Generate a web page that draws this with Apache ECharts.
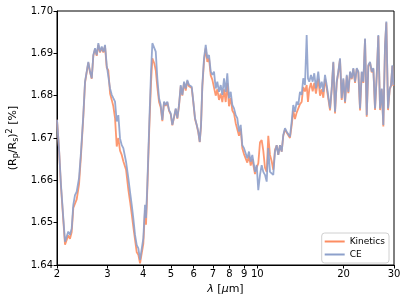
<!DOCTYPE html>
<html>
<head>
<meta charset="utf-8">
<script src="https://cdn.jsdelivr.net/npm/echarts@6/dist/echarts.min.js"></script>
<style>html,body{margin:0;padding:0;background:#fff}#c{width:407px;height:304px}</style>
</head>
<body>
<div id="c"></div>
<script>
const wavelength = [2.000,2.032,2.065,2.104,2.133,2.162,2.190,2.220,2.251,2.280,2.311,2.343,2.387,2.426,2.471,2.505,2.539,2.572,2.608,2.644,2.678,2.715,2.752,2.788,2.826,2.865,2.902,2.942,2.982,3.021,3.063,3.105,3.145,3.188,3.232,3.274,3.319,3.365,3.408,
3.483,3.548,3.597,3.646,3.693,3.744,3.796,3.845,3.898,3.951,4.002,4.057,4.090,4.133,4.200,4.258,4.303,4.372,4.422,4.479,4.541,4.603,4.663,4.727,4.792,4.854,4.921,4.988,5.053,5.122,5.193,5.260,5.332,5.405,5.476,5.551,5.627,5.700,5.778,5.825,
5.905,5.981,6.063,6.147,6.226,6.297,6.363,6.430,6.518,6.608,6.693,6.785,6.879,6.968,7.063,7.160,7.253,7.352,7.453,7.550,7.654,7.759,7.859,7.967,8.077,8.181,8.294,8.408,8.516,8.633,8.752,8.865,8.987,9.111,9.229,9.355,9.484,9.607,9.739,
9.817,9.952,10.081,10.220,10.360,10.494,10.638,10.785,10.924,11.075,11.227,11.372,11.529,11.687,11.838,12.001,12.166,12.323,12.493,12.665,12.828,13.005,13.183,13.354,13.537,13.723,13.901,14.092,14.286,14.470,14.669,14.871,15.027,15.185,15.393,15.605,15.807,16.024,16.323,
16.556,16.784,17.001,17.234,17.471,17.697,17.941,18.187,18.422,18.676,18.932,19.177,19.441,19.708,19.969,20.244,20.522,20.787,21.073,21.363,21.639,21.936,22.238,22.526,22.835,23.149,23.449,23.771,24.098,24.410,24.745,25.085,25.410,25.759,26.113,26.451,26.815,27.183,27.535,27.914,28.207,28.595,28.988,29.293,29.601,29.839];

const kinetics = [1.6743,1.6676,1.6585,1.6505,1.6448,1.6444,1.6470,1.6462,1.6478,1.6535,1.6545,1.6555,1.6590,1.6660,1.6750,1.6830,1.6855,1.6878,1.6855,1.6840,1.6894,1.6910,1.6894,1.6920,1.6902,1.6913,1.6902,1.6917,1.6866,1.6860,1.6805,1.6790,1.6775,1.6747,1.6680,1.6700,1.6670,1.6660,1.6645,
1.6625,1.6578,1.6550,1.6520,1.6490,1.6460,1.6430,1.6424,1.6404,1.6402,1.6450,1.6530,1.6495,1.6580,1.6725,1.6830,1.6888,1.6876,1.6860,1.6820,1.6785,1.6772,1.6740,1.6784,1.6776,1.6784,1.6764,1.6756,1.6730,1.6748,1.6768,1.6746,1.6776,1.6822,1.6800,1.6830,1.6812,1.6834,1.6822,1.6826,
1.6818,1.6784,1.6745,1.6730,1.6713,1.6690,1.6728,1.6820,1.6882,1.6912,1.6880,1.6888,1.6848,1.6838,1.6840,1.6800,1.6815,1.6790,1.6805,1.6785,1.6815,1.6785,1.6830,1.6775,1.6795,1.6765,1.6758,1.6735,1.6735,1.6705,1.6722,1.6676,1.6662,1.6665,1.6642,1.6658,1.6635,1.6650,1.6628,
1.6615,1.6630,1.6640,1.6690,1.6695,1.6670,1.6630,1.6620,1.6705,1.6660,1.6645,1.6625,1.6672,1.6683,1.6660,1.6683,1.6668,1.6705,1.6720,1.6713,1.6713,1.6700,1.6730,1.6765,1.6745,1.6760,1.6760,1.6780,1.6785,1.6820,1.6810,1.6825,1.6785,1.6815,1.6830,1.6810,1.6830,1.6805,1.6840,
1.6800,1.6815,1.6795,1.6840,1.6818,1.6820,1.6765,1.6815,1.6878,1.6758,1.6830,1.6855,1.6886,1.6790,1.6838,1.6782,1.6846,1.6806,1.6855,1.6839,1.6863,1.6830,1.6863,1.6855,1.6765,1.6855,1.6830,1.6933,1.6750,1.6870,1.6878,1.6855,1.6863,1.6766,1.6847,1.6941,1.6766,1.6815,1.6727,1.6918,1.6973,1.6766,1.6815,1.6823,1.6870,1.6823];

const ce = [1.6743,1.6676,1.6589,1.6511,1.6455,1.6452,1.6479,1.6471,1.6487,1.6542,1.6565,1.6573,1.6605,1.6668,1.6754,1.6833,1.6857,1.6880,1.6857,1.6841,1.6896,1.6912,1.6896,1.6924,1.6904,1.6916,1.6904,1.6920,1.6872,1.6868,1.6817,1.6802,1.6794,1.6786,1.6739,1.6754,1.6699,1.6683,1.6676,
1.6644,1.6605,1.6573,1.6542,1.6510,1.6471,1.6447,1.6439,1.6412,1.6412,1.6463,1.6542,1.6511,1.6589,1.6739,1.6857,1.6924,1.6920,1.6904,1.6841,1.6794,1.6778,1.6743,1.6786,1.6778,1.6786,1.6766,1.6758,1.6731,1.6750,1.6770,1.6747,1.6778,1.6825,1.6802,1.6833,1.6817,1.6837,1.6825,1.6829,
1.6821,1.6786,1.6747,1.6731,1.6715,1.6691,1.6731,1.6825,1.6888,1.6920,1.6888,1.6896,1.6857,1.6849,1.6857,1.6817,1.6833,1.6809,1.6825,1.6802,1.6841,1.6809,1.6853,1.6794,1.6809,1.6778,1.6770,1.6754,1.6747,1.6715,1.6731,1.6683,1.6676,1.6676,1.6652,1.6668,1.6644,1.6660,1.6636,
1.6620,1.6636,1.6577,1.6613,1.6636,1.6620,1.6613,1.6597,1.6676,1.6620,1.6620,1.6613,1.6668,1.6683,1.6660,1.6683,1.6668,1.6707,1.6723,1.6715,1.6715,1.6703,1.6739,1.6778,1.6762,1.6786,1.6778,1.6809,1.6802,1.6841,1.6825,1.6943,1.6841,1.6833,1.6849,1.6833,1.6853,1.6817,1.6857,
1.6817,1.6833,1.6809,1.6849,1.6825,1.6825,1.6770,1.6817,1.6880,1.6762,1.6833,1.6857,1.6888,1.6794,1.6841,1.6786,1.6849,1.6809,1.6857,1.6841,1.6865,1.6833,1.6865,1.6857,1.6770,1.6857,1.6833,1.6935,1.6754,1.6872,1.6880,1.6857,1.6865,1.6770,1.6849,1.6943,1.6770,1.6817,1.6731,1.6920,1.6975,1.6770,1.6817,1.6825,1.6872,1.6825];

const xTicks = [2,3,4,5,6,7,8,9,10,20,30];
const yMin = 1.64, yMax = 1.70, yStep = 0.01;

const font = 'DejaVu Sans';
const chart = echarts.init(document.getElementById('c'), null, {renderer: 'canvas'});
chart.setOption({
  animation: false,
  backgroundColor: '#fff',
  grid: {left: 57, right: 13, top: 11, bottom: 39, containLabel: false, outerBoundsMode: 'none',
         show: true, borderColor: '#000', borderWidth: 1, backgroundColor: 'transparent'},
  legend: {
    orient: 'vertical', right: 18, bottom: 41,
    data: ['Kinetics', 'CE'],
    icon: 'rect', itemWidth: 20, itemHeight: 2, itemGap: 4,
    borderColor: '#d0d0d0', borderWidth: 1, borderRadius: 3,
    padding: [4, 4, 4, 3], backgroundColor: '#fff',
    textStyle: {fontFamily: font, fontSize: 9, color: '#000'}
  },
  xAxis: {
    type: 'log', logBase: 10, min: 2, max: 30,
    axisLine: {lineStyle: {color: '#000', width: 1}},
    axisTick: {show: true, length: 3.5, lineStyle: {color: '#000'}, customValues: xTicks},
    axisLabel: {fontFamily: font, fontSize: 10, color: '#000', margin: 4, customValues: xTicks, formatter: v => String(v)},
    minorTick: {show: false},
    splitLine: {show: false},
    name: '{i|λ} [{i|μ}m]', nameLocation: 'middle', nameGap: 18,
    nameTextStyle: {fontFamily: font, fontSize: 11, color: '#000', rich: {i: {fontFamily: font, fontSize: 11, fontStyle: 'italic', color: '#000'}}}
  },
  yAxis: {
    type: 'value', min: yMin, max: yMax, interval: yStep,
    axisLine: {show: true, lineStyle: {color: '#000', width: 1}},
    axisTick: {show: true, length: 3.5, lineStyle: {color: '#000'}},
    axisLabel: {fontFamily: font, fontSize: 10, color: '#000', margin: 4, formatter: v => v.toFixed(2)},
    splitLine: {show: false},
    name: '(R{sub|p}/R{sub|s}){sup|2} [%]', nameLocation: 'middle', nameGap: 36, nameRotate: 90,
    nameTextStyle: {fontFamily: font, fontSize: 11, color: '#000',
      rich: {
        sub: {fontFamily: font, fontSize: 8, color: '#000', verticalAlign: 'bottom', padding: [6, 0, 0, 0]},
        sup: {fontFamily: font, fontSize: 8, color: '#000', verticalAlign: 'top', padding: [0, 0, 6, 0]}
      }}
  },
  series: [
    {name: 'Kinetics', type: 'line', data: wavelength.map((w, i) => [w, kinetics[i]]), showSymbol: false, symbol: 'none',
     lineStyle: {color: '#fc8d62', width: 1.8, opacity: 0.9}, itemStyle: {color: '#fc8d62'}, z: 2},
    {name: 'CE', type: 'line', data: wavelength.map((w, i) => [w, ce[i]]), showSymbol: false, symbol: 'none',
     lineStyle: {color: '#8da0cb', width: 1.8, opacity: 0.9}, itemStyle: {color: '#8da0cb'}, z: 3}
  ]
});
</script>
</body>
</html>
